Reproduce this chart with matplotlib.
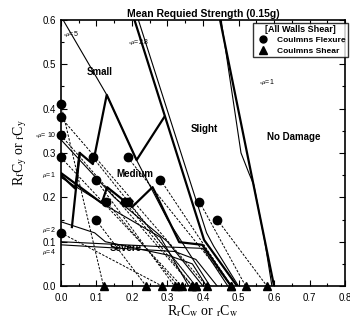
import numpy as np
import matplotlib
matplotlib.use("Agg")
import matplotlib.pyplot as plt
from matplotlib.lines import Line2D
from matplotlib.ticker import MultipleLocator

plt.rcParams['font.family'] = ['Liberation Sans', 'DejaVu Sans']
plt.rcParams['mathtext.fontset'] = 'stix'

# ------------------------------------------------------------
# data
# ------------------------------------------------------------
# column flexure points (circles)
flex_x = [0.0, 0.0, 0.0, 0.0, 0.0, 0.09, 0.098, 0.098, 0.188, 0.128, 0.18, 0.188, 0.28, 0.39, 0.44]
flex_y = [0.41, 0.38, 0.34, 0.29, 0.12, 0.29, 0.24, 0.15, 0.29, 0.19, 0.19, 0.19, 0.24, 0.19, 0.15]
# column shear points (triangles on the x axis)
shear_x = [0.12, 0.41, 0.37, 0.34, 0.285, 0.38, 0.32, 0.24, 0.48, 0.33, 0.37, 0.38, 0.48, 0.52, 0.58]

# boundary curves, thick
mu28_thick_x = [0.207, 0.403, 0.496]
mu28_thick_y = [0.60, 0.104, 0.0]
mu1_thick_x = [0.448, 0.60]
mu1_thick_y = [0.60, 0.0]
zig_x = [0.0, 0.04, 0.053, 0.09, 0.129, 0.213, 0.291]
zig_y = [0.25, 0.22, 0.30, 0.275, 0.431, 0.284, 0.381]
med_x = [0.0, 0.115, 0.13, 0.20, 0.258, 0.333, 0.398, 0.479]
med_y = [0.255, 0.187, 0.223, 0.178, 0.223, 0.099, 0.093, 0.0]
vert_x = [0.053, 0.031]
vert_y = [0.30, 0.133]

# boundary curves, thin
mu5_x = [0.006, 0.129, 0.213, 0.30, 0.42]
mu5_y = [0.60, 0.431, 0.284, 0.15, 0.0]
mu28_thin_x = [0.218, 0.41, 0.43, 0.50]
mu28_thin_y = [0.60, 0.12, 0.09, 0.0]
mu1_thin_x = [0.451, 0.507, 0.529, 0.543, 0.574, 0.594]
mu1_thin_y = [0.60, 0.30, 0.255, 0.228, 0.10, 0.0]
mu10_x = [0.0, 0.15, 0.30, 0.40]
mu10_y = [0.33, 0.20, 0.10, 0.0]
mu1c_x = [0.0, 0.13, 0.28, 0.36]
mu1c_y = [0.245, 0.18, 0.11, 0.0]
mu2_x = [0.0, 0.095, 0.125, 0.30, 0.37, 0.41]
mu2_y = [0.145, 0.12, 0.10, 0.07, 0.05, 0.0]
mu4_x = [0.0, 0.305, 0.40, 0.47]
mu4_y = [0.10, 0.088, 0.085, 0.0]
mu4b_x = [0.0, 0.32, 0.38, 0.44]
mu4b_y = [0.093, 0.078, 0.06, 0.0]

# ------------------------------------------------------------
# figure
# ------------------------------------------------------------
fig = plt.figure(figsize=(3.5, 3.2), dpi=100)
ax = fig.add_axes([0.174, 0.106, 0.812, 0.832])

# dashed interaction lines: circle -> triangle
for fx, fy, sx in zip(flex_x, flex_y, shear_x):
    ax.plot([fx, sx], [fy, 0.0], color='black', lw=0.7, ls=(0, (2.5, 1.5)))

for xs, ys in [(mu28_thick_x, mu28_thick_y), (mu1_thick_x, mu1_thick_y),
               (zig_x, zig_y), (med_x, med_y), (vert_x, vert_y)]:
    ax.plot(xs, ys, color='black', lw=1.6)

for xs, ys in [(mu5_x, mu5_y), (mu28_thin_x, mu28_thin_y), (mu1_thin_x, mu1_thin_y),
               (mu10_x, mu10_y), (mu1c_x, mu1c_y), (mu2_x, mu2_y),
               (mu4_x, mu4_y), (mu4b_x, mu4b_y)]:
    ax.plot(xs, ys, color='black', lw=0.8)

ax.plot(flex_x, flex_y, 'o', color='black', ms=6, clip_on=False, zorder=5)
ax.plot(shear_x, [0.0] * len(shear_x), '^', color='black', ms=6, clip_on=False, zorder=5)

ax.set_xlim(0, 0.8)
ax.set_ylim(0, 0.6)
ax.xaxis.set_major_locator(MultipleLocator(0.1))
ax.yaxis.set_major_locator(MultipleLocator(0.1))
ax.xaxis.set_minor_locator(MultipleLocator(0.05))
ax.yaxis.set_minor_locator(MultipleLocator(0.05))
ax.tick_params(which='both', direction='in', top=True, right=True, labelsize=7, width=0.8)
ax.tick_params(which='major', length=4)
ax.tick_params(which='minor', length=2)
ax.tick_params(axis='x', pad=5)
for s in ax.spines.values():
    s.set_linewidth(1.2)

ax.set_title('Mean Requied Strength (0.15g)', fontsize=7.5, fontweight='bold', pad=2)
ax.set_xlabel(r'R$_\mathrm{r}$C$_\mathrm{w}$ or $_\mathrm{r}$C$_\mathrm{w}$',
              family='Liberation Serif', fontsize=10, labelpad=0)
ax.set_ylabel(r'R$_\mathrm{f}$C$_\mathrm{y}$ or $_\mathrm{f}$C$_\mathrm{y}$',
              family='Liberation Serif', fontsize=10, labelpad=10)

# region labels
bold = dict(fontsize=7, fontweight='bold', ha='center', va='center')
ax.text(0.11, 0.483, 'Small', **bold)
ax.text(0.405, 0.354, 'Slight', **bold)
ax.text(0.656, 0.337, 'No Damage', **bold)
ax.text(0.207, 0.253, 'Medium', **bold)
ax.text(0.182, 0.086, 'Severe', **bold)

small = dict(fontsize=5, va='center')
ax.text(0.005, 0.567, r'$_s\mu$=5', **small)
ax.text(0.188, 0.551, r'$_s\mu$=2.8', **small)
ax.text(0.557, 0.46, r'$_s\mu$=1', **small)
ax.text(-0.012, 0.34, r'$_s\mu$= 10', ha='right', clip_on=False, **small)
ax.text(-0.015, 0.25, r'$\mu$=1', ha='right', clip_on=False, **small)
ax.text(-0.015, 0.127, r'$\mu$=2', ha='right', clip_on=False, **small)
ax.text(-0.015, 0.076, r'$\mu$=4', ha='right', clip_on=False, **small)

handles = [Line2D([], [], marker='o', color='black', ls='none', ms=5),
           Line2D([], [], marker='^', color='black', ls='none', ms=5.5)]
leg = ax.legend(handles, ['Coulmns Flexure', 'Coulmns Shear'], title='[All Walls Shear]',
                loc='upper right', bbox_to_anchor=(1.01, 0.99), fontsize=6,
                title_fontsize=6.5, frameon=True, fancybox=False, edgecolor='black',
                borderpad=0.3, handletextpad=0.6, labelspacing=0.3, borderaxespad=0)
leg.get_frame().set_linewidth(1.0)
for t in leg.get_texts():
    t.set_fontweight('bold')
leg.get_title().set_fontweight('bold')

fig.savefig('out.png', dpi=100)
